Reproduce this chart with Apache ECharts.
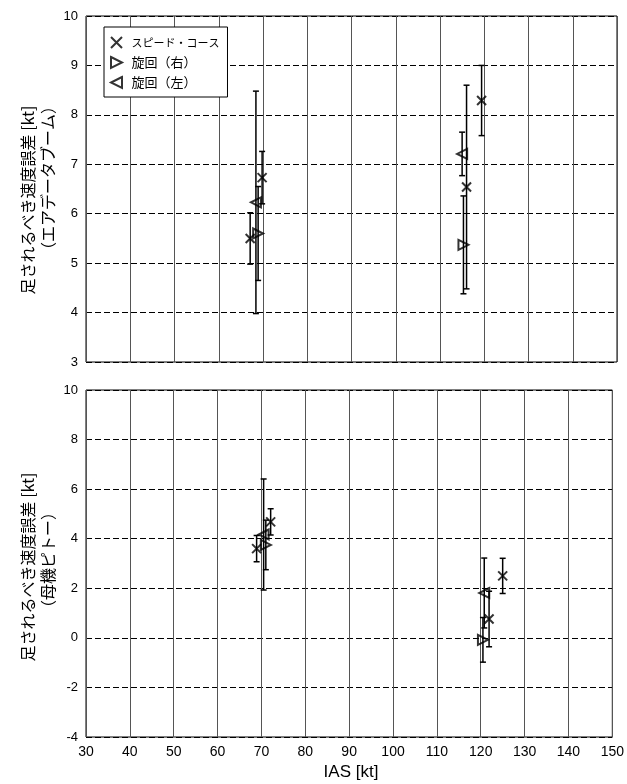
<!DOCTYPE html>
<html>
<head>
<meta charset="utf-8">
<script src="https://cdn.jsdelivr.net/npm/echarts@6/dist/echarts.min.js"></script>
<style>
html,body{margin:0;padding:0;background:#fff;}
#chart{width:627px;height:784px;}
</style>
</head>
<body>
<div id="chart"></div>
<script>
// ---- data ----
const xTicks = [30,40,50,60,70,80,90,100,110,120,130,140,150];
const seriesNames = ['スピード・コース','旋回（右）','旋回（左）'];

// top panel (air-data boom)
const topSpeedX   = [67.1, 69.8, 119.4, 116.0];
const topSpeedY   = [5.50, 6.73, 8.29, 6.54];
const topSpeedErr = [0.52, 0.53, 0.71, 2.06];
const topRightX   = [68.9, 115.3];
const topRightY   = [5.60, 5.37];
const topRightErr = [0.95, 0.99];
const topLeftX    = [68.4, 115.0];
const topLeftY    = [6.23, 7.21];
const topLeftErr  = [2.25, 0.44];

// bottom panel (mother-ship pitot)
const botSpeedX   = [68.9, 72.1, 125.0, 121.9];
const botSpeedY   = [3.60, 4.68, 2.50, 0.76];
const botSpeedErr = [0.53, 0.53, 0.71, 1.12];
const botRightX   = [71.0, 120.5];
const botRightY   = [3.75, -0.08];
const botRightErr = [1.00, 0.90];
const botLeftX    = [70.5, 120.8];
const botLeftY    = [4.17, 1.81];
const botLeftErr  = [2.24, 1.41];

// ---- build ----
const chart = echarts.init(document.getElementById('chart'), null, {renderer:'canvas'});
const pts = (xs, ys) => xs.map((x,i)=>[x, ys[i]]);
const errs = (xs, ys, es) => xs.map((x,i)=>[x, ys[i], es[i]]);

const SYM = {
  'スピード・コース': 'path://M0,0L10,10M10,0L0,10',
  '旋回（右）': 'path://M0,0L10,5L0,10Z',
  '旋回（左）': 'path://M10,0L0,5L10,10Z'
};

function renderErr(params, api){
  const x = api.value(0), y = api.value(1), e = api.value(2);
  const t = api.coord([x, y+e]);
  const b = api.coord([x, y-e]);
  const w = 3;
  const st = {stroke:'#000', lineWidth:1.5, fill:null};
  return {type:'group', children:[
    {type:'line', shape:{x1:t[0],y1:t[1],x2:b[0],y2:b[1]}, style:st},
    {type:'line', shape:{x1:t[0]-w,y1:t[1],x2:t[0]+w,y2:t[1]}, style:st},
    {type:'line', shape:{x1:b[0]-w,y1:b[1],x2:b[0]+w,y2:b[1]}, style:st}
  ]};
}

function errSeries(idx, data){
  return {type:'custom', xAxisIndex:idx, yAxisIndex:idx, renderItem:renderErr,
    data:data, encode:{x:0, y:1}, silent:true, z:2};
}
function symSeries(idx, name, data){
  return {type:'scatter', name:name, xAxisIndex:idx, yAxisIndex:idx, data:data,
    symbol:SYM[name], symbolSize: name==='スピード・コース'?9:10,
    itemStyle:{color:'rgba(0,0,0,0)', borderColor:'#000', borderWidth:2},
    z:3};
}

const tickFont = {fontFamily:'Liberation Sans, Arial, sans-serif', fontSize:13, color:'#000'};
const jpFont = 'Noto Sans CJK JP, sans-serif';

const xAxisBase = {type:'value', min:30, max:150, interval:10,
  axisLine:{show:false}, axisTick:{show:false},
  splitLine:{show:true, lineStyle:{color:'#555', width:1, type:'solid'}}};

const option = {
  animation:false,
  backgroundColor:'#fff',
  grid:[
    {left:86, right:10, top:16, height:346, show:true, borderColor:'#000', borderWidth:1, backgroundColor:'transparent'},
    {left:86, right:10, top:390, height:347, show:true, borderColor:'#000', borderWidth:1, backgroundColor:'transparent'}
  ],
  xAxis:[
    Object.assign({}, xAxisBase, {gridIndex:0, axisLabel:{show:false}}),
    Object.assign({}, xAxisBase, {gridIndex:1, axisLabel:Object.assign({margin:8}, tickFont, {fontSize:14})})
  ],
  yAxis:[
    {type:'value', gridIndex:0, min:3, max:10, interval:1,
     axisLine:{show:false}, axisTick:{show:false},
     axisLabel:Object.assign({margin:8}, tickFont),
     splitLine:{show:true, lineStyle:{color:'#000', width:1, type:[6,3]}}},
    {type:'value', gridIndex:1, min:-4, max:10, interval:2,
     axisLine:{show:false}, axisTick:{show:false},
     axisLabel:Object.assign({margin:8}, tickFont),
     splitLine:{show:true, lineStyle:{color:'#000', width:1, type:[6,3]}}}
  ],
  legend:{
    left:104, top:27, orient:'vertical',
    backgroundColor:'#fff', borderColor:'#000', borderWidth:1,
    padding:[9,8,8,6], itemGap:7, itemWidth:20, itemHeight:11,
    textStyle:{fontFamily:jpFont, fontSize:13, color:'#000'},
    data:[
      {name:seriesNames[0], textStyle:{fontSize:11}},
      {name:seriesNames[1]},
      {name:seriesNames[2]}
    ]
  },
  graphic:[
    {type:'text', x:28, y:200, rotation:Math.PI/2,
     style:{text:'足されるべき速度誤差 [kt]', font:'16px '+jpFont, fill:'#000', textAlign:'center', textVerticalAlign:'middle'}},
    {type:'text', x:48, y:178, rotation:Math.PI/2,
     style:{text:'（エアデータブーム）', font:'16px '+jpFont, fill:'#000', textAlign:'center', textVerticalAlign:'middle'}},
    {type:'text', x:28, y:567, rotation:Math.PI/2,
     style:{text:'足されるべき速度誤差 [kt]', font:'16px '+jpFont, fill:'#000', textAlign:'center', textVerticalAlign:'middle'}},
    {type:'text', x:48, y:560, rotation:Math.PI/2,
     style:{text:'（母機ピトー）', font:'16px '+jpFont, fill:'#000', textAlign:'center', textVerticalAlign:'middle'}},
    {type:'text', x:351, y:772,
     style:{text:'IAS [kt]', font:'17px Liberation Sans, Arial, sans-serif', fill:'#000', textAlign:'center', textVerticalAlign:'middle'}}
  ],
  series:[
    errSeries(0, errs(topSpeedX, topSpeedY, topSpeedErr)),
    errSeries(0, errs(topRightX, topRightY, topRightErr)),
    errSeries(0, errs(topLeftX, topLeftY, topLeftErr)),
    symSeries(0, seriesNames[0], pts(topSpeedX, topSpeedY)),
    symSeries(0, seriesNames[1], pts(topRightX, topRightY)),
    symSeries(0, seriesNames[2], pts(topLeftX, topLeftY)),
    errSeries(1, errs(botSpeedX, botSpeedY, botSpeedErr)),
    errSeries(1, errs(botRightX, botRightY, botRightErr)),
    errSeries(1, errs(botLeftX, botLeftY, botLeftErr)),
    symSeries(1, seriesNames[0], pts(botSpeedX, botSpeedY)),
    symSeries(1, seriesNames[1], pts(botRightX, botRightY)),
    symSeries(1, seriesNames[2], pts(botLeftX, botLeftY))
  ]
};
chart.setOption(option);
</script>
</body>
</html>
